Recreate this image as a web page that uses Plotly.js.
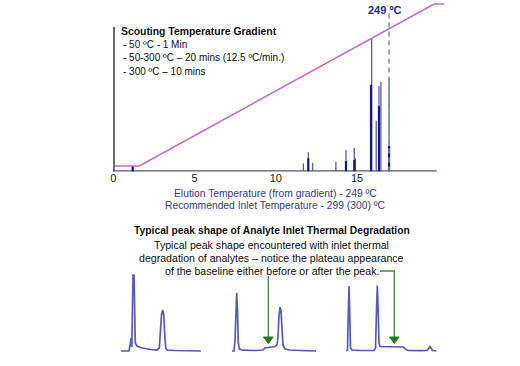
<!DOCTYPE html>
<html>
<head>
<meta charset="utf-8">
<script src="https://cdn.plot.ly/plotly-3.0.1.min.js"></script>
<style>html,body{margin:0;padding:0;background:#fff;}#chart{width:520px;height:366px;}</style>
</head>
<body>
<div id="chart"></div>
<script>
// ---- main chromatogram data (time in min) ----
const peakTimes   = [1.19, 11.70, 12.00, 12.27, 13.70, 14.32, 14.83, 14.90, 15.90, 16.18, 16.35, 16.47, 16.97];
const peakHeights = [4.2, 6.0, 14.5, 6.4, 7.4, 16.2, 17.7, 10.0, 100, 38.3, 64.5, 67.8, 69.8];
const coreTimes   = [1.19, 12.00, 14.32, 14.83, 15.86, 16.35, 16.97];
const coreHeights = [4.2, 10.0, 8.0, 8.7, 65.3, 49.4, 19.2];
// ---- oven temperature gradient ----
const gradTime = [0, 1.6, 19.74, 20.37];
const gradTemp = [50, 50, 300, 300];
// ---- elution marker ----
const elutionTime = 16.97;
const elutionMarkerTop = 119.6;
const xTickVals = [0, 5, 10, 15];
// ---- example degradation chromatograms ----
const chromA_t = [0, 0.8, 0.95, 1.0, 1.08, 1.13, 1.17, 1.2, 1.3, 1.37, 1.43, 1.6, 2.1, 3.0, 3.6, 3.83, 3.95, 4.05, 4.17, 4.28, 4.38, 4.47, 4.6, 5.4, 8.0];
const chromA_y = [0, 0, 8, 13, 4, 40, 70, 76, 76, 20, 8, 5, 3, 1.5, 1, 3, 20, 36, 41, 36, 15, 3, 1, 0.5, 0];
const chromB_t = [0, 0.23, 0.33, 0.41, 0.5, 0.58, 0.66, 0.78, 1.13, 2.33, 3.13, 3.33, 3.83, 4.33, 4.53, 4.63, 4.73, 4.83, 4.93, 5.03, 5.13, 5.33, 5.83, 6.83, 8.43];
const chromB_y = [0, 0, 10, 40, 58, 40, 8, 2, 0.8, 0.5, 1, 3, 3.5, 4.5, 6, 15, 35, 44, 40, 20, 6, 2, 1, 0.5, 0];
const chromC_t = [0, 0.15, 0.23, 0.3, 0.37, 0.45, 0.6, 1.4, 2.8, 2.95, 3.05, 3.13, 3.22, 3.3, 3.4, 4.4, 5.4, 5.73, 6.0, 6.23, 7.4, 8.1, 8.3, 8.4, 8.5, 8.65, 9.07];
const chromC_y = [0, 1, 40, 65, 40, 3, 1, 0.5, 0.5, 3, 40, 65.5, 40, 8, 4.5, 4.5, 4.3, 4, 1.5, 0.5, 0.3, 0.5, 3, 4.5, 3, 0.5, 0];

const W = 520, H = 366;
const X = p => p / W;
const Y = p => 1 - p / H;
const FONT = 'Arial, "Liberation Sans", sans-serif';

function sticks(ts, hs) {
  const x = [], y = [];
  ts.forEach((t, i) => { x.push(t, t, null); y.push(0, hs[i], null); });
  return {x, y};
}
const outl = sticks(peakTimes, peakHeights);
const core = sticks(coreTimes, coreHeights);

const chromColor = '#5858c6';
const traces = [
  {x: gradTime, y: gradTemp, yaxis: 'y2', type: 'scatter', mode: 'lines',
   line: {color: '#c46cc8', width: 1.6}, hoverinfo: 'skip'},
  {x: outl.x, y: outl.y, type: 'scatter', mode: 'lines',
   line: {color: '#5a5ab8', width: 1.3}, hoverinfo: 'skip'},
  {x: core.x, y: core.y, type: 'scatter', mode: 'lines',
   line: {color: '#16168e', width: 2.2}, hoverinfo: 'skip'},
  {x: [elutionTime, elutionTime], y: [0, elutionMarkerTop], type: 'scatter', mode: 'lines',
   line: {color: '#7d9c7d', width: 1.5, dash: '5px,4px'}, hoverinfo: 'skip'},
  {x: chromA_t, y: chromA_y, xaxis: 'x2', yaxis: 'y3', type: 'scatter', mode: 'lines',
   line: {color: chromColor, width: 1.7}, hoverinfo: 'skip'},
  {x: chromB_t, y: chromB_y, xaxis: 'x3', yaxis: 'y4', type: 'scatter', mode: 'lines',
   line: {color: chromColor, width: 1.7}, hoverinfo: 'skip'},
  {x: chromC_t, y: chromC_y, xaxis: 'x4', yaxis: 'y5', type: 'scatter', mode: 'lines',
   line: {color: chromColor, width: 1.7}, hoverinfo: 'skip'}
];

const hidden = {visible: false, showgrid: false, zeroline: false, fixedrange: true};
const miniY = [Y(356), Y(271)];

const green = '#3f8c3f', greenHead = '#1f7a1f';
const shapes = [
  // x axis baseline
  {type: 'line', xref: 'x', yref: 'y', x0: 0, x1: 19.9, y0: 0, y1: 0,
   line: {color: '#55557a', width: 2.5}, layer: 'below'},
  // left axis
  {type: 'line', xref: 'paper', yref: 'paper', x0: X(114), x1: X(114), y0: Y(171.5), y1: Y(27),
   line: {color: '#6c6c6c', width: 2}},
  // arrow B
  {type: 'line', xref: 'paper', yref: 'paper', x0: X(268.3), x1: X(268.3), y0: Y(276), y1: Y(337.5),
   line: {color: green, width: 1.3}},
  {type: 'path', xref: 'paper', yref: 'paper',
   path: `M ${X(263.5)} ${Y(337)} L ${X(273.1)} ${Y(337)} L ${X(268.3)} ${Y(343.5)} Z`,
   fillcolor: greenHead, line: {color: greenHead, width: 1}},
  // arrow C (connector from text)
  {type: 'path', xref: 'paper', yref: 'paper',
   path: `M ${X(380)} ${Y(271)} L ${X(394.3)} ${Y(271)} L ${X(394.3)} ${Y(337.5)}`,
   line: {color: green, width: 1.3}},
  {type: 'path', xref: 'paper', yref: 'paper',
   path: `M ${X(389.5)} ${Y(337)} L ${X(399.1)} ${Y(337)} L ${X(394.3)} ${Y(343.5)} Z`,
   fillcolor: greenHead, line: {color: greenHead, width: 1}}
];

function txt(text, px, py, opts) {
  return Object.assign({text, xref: 'paper', yref: 'paper', x: X(px), y: Y(py),
    xanchor: 'left', yanchor: 'middle', showarrow: false,
    font: {family: FONT, size: 10, color: '#111'}}, opts || {});
}
const navy = '#3a3a96';
const annotations = [
  txt('<b>Scouting Temperature Gradient</b>', 118.5, 31.5, {font: {family: FONT, size: 10.4, color: '#111'}}),
  txt('- 50 ºC - 1 Min', 121, 44.5),
  txt('- 50-300 ºC – 20 mins (12.5 ºC/min.)', 121, 58),
  txt('- 300 ºC – 10 mins', 121, 71),
  txt('<b>249 ºC</b>', 384, 10, {xanchor: 'center', font: {family: FONT, size: 11, color: '#2b2b8c'}}),
  txt('Elution Temperature (from gradient) - 249 ºC', 275, 193.5, {xanchor: 'center', font: {family: FONT, size: 10.3, color: navy}}),
  txt('Recommended Inlet Temperature - 299 (300) ºC', 275, 206, {xanchor: 'center', font: {family: FONT, size: 10.3, color: navy}}),
  txt('<b>Typical peak shape of Analyte Inlet Thermal Degradation</b>', 271.5, 230, {xanchor: 'center', font: {family: FONT, size: 10.3, color: '#111'}}),
  txt('Typical peak shape encountered with inlet thermal', 271, 245, {xanchor: 'center', font: {family: FONT, size: 10.6, color: '#111'}}),
  txt('degradation of analytes – notice the plateau appearance', 271, 258, {xanchor: 'center', font: {family: FONT, size: 10.6, color: '#111'}}),
  txt('of the baseline either before or after the peak.', 271.5, 270.5, {xanchor: 'center', font: {family: FONT, size: 10.6, color: '#111'}})
];

const layout = {
  width: W, height: H,
  margin: {l: 0, r: 0, t: 0, b: 0, pad: 0},
  paper_bgcolor: '#fff', plot_bgcolor: 'rgba(0,0,0,0)',
  showlegend: false,
  xaxis: {domain: [X(113.3), X(446.4)], range: [0, 20.5], tickvals: xTickVals,
          ticks: '', ticklabelstandoff: -2,
          showgrid: false, zeroline: false, showline: false, fixedrange: true,
          tickfont: {family: FONT, size: 11, color: '#222'}, anchor: 'y'},
  yaxis: Object.assign({domain: [Y(171.5), Y(2)], range: [0, 127.9], anchor: 'x'}, hidden),
  yaxis2: Object.assign({overlaying: 'y', range: [41.5, 303.1], anchor: 'x'}, hidden),
  xaxis2: Object.assign({domain: [X(121), X(201)], range: [0, 8], anchor: 'y3'}, hidden),
  yaxis3: Object.assign({domain: miniY, range: [-5, 80], anchor: 'x2'}, hidden),
  xaxis3: Object.assign({domain: [X(231.7), X(316)], range: [0, 8.43], anchor: 'y4'}, hidden),
  yaxis4: Object.assign({domain: miniY, range: [-5, 80], anchor: 'x3'}, hidden),
  xaxis4: Object.assign({domain: [X(346), X(436.7)], range: [0, 9.07], anchor: 'y5'}, hidden),
  yaxis5: Object.assign({domain: miniY, range: [-5, 80], anchor: 'x4'}, hidden),
  shapes, annotations
};

Plotly.newPlot('chart', traces, layout, {staticPlot: true, displayModeBar: false});
</script>
</body>
</html>
